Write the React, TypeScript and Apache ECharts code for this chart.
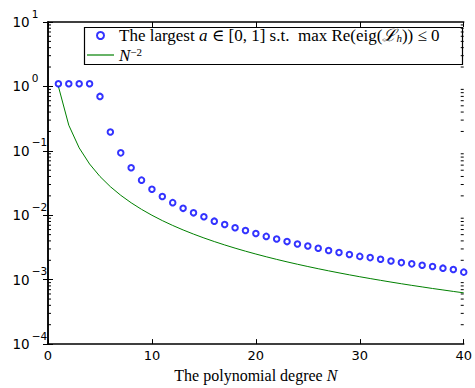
import { useEffect, useRef } from "react";
import * as echarts from "echarts";

// Polynomial degrees N = 1..40
const degrees = [
  1, 2, 3, 4, 5, 6, 7, 8, 9, 10, 11, 12, 13, 14, 15, 16, 17, 18, 19, 20,
  21, 22, 23, 24, 25, 26, 27, 28, 29, 30, 31, 32, 33, 34, 35, 36, 37, 38, 39, 40,
];

// Largest stable a for each degree
const largestA = [
  1.1, 1.1, 1.1, 1.1, 0.7, 0.196, 0.093, 0.0548, 0.0351, 0.0253,
  0.0195, 0.0157, 0.0128, 0.0109, 0.0095, 0.0081, 0.0072, 0.0064, 0.0058, 0.0052,
  0.0047, 0.00428, 0.0039, 0.00359, 0.00334, 0.00308, 0.00284, 0.00264, 0.00246, 0.0023,
  0.0022, 0.00207, 0.00195, 0.00184, 0.00176, 0.00168, 0.0016, 0.00151, 0.00144, 0.00131,
];

// Reference curve N^-2
const inverseSquare = [
  1, 0.25, 0.1111, 0.0625, 0.04, 0.02778, 0.02041, 0.015625, 0.012346, 0.01,
  0.008264, 0.006944, 0.005917, 0.005102, 0.004444, 0.003906, 0.00346, 0.003086, 0.00277, 0.0025,
  0.002268, 0.002066, 0.00189, 0.001736, 0.0016, 0.001479, 0.001372, 0.001276, 0.001189, 0.001111,
  0.001041, 0.000977, 0.000918, 0.000865, 0.000816, 0.000772, 0.00073, 0.000693, 0.000657, 0.000625,
];

const xTicks = [0, 10, 20, 30, 40];
const yDecades = [-4, -3, -2, -1, 0, 1];

const seriesA = "The largest a ∈ [0, 1] s.t. max Re(eig(ℒh)) ≤ 0";
const seriesN = "N^−2";

const SERIF = "'Liberation Serif', 'DejaVu Serif', serif";
const SANS = "'DejaVu Sans', sans-serif";

const xMin = xTicks[0];
const xMax = xTicks[xTicks.length - 1];
const yMin = Math.pow(10, yDecades[0]);
const yMax = Math.pow(10, yDecades[yDecades.length - 1]);

// log-axis minor ticks at 2..9 within each decade
const minorTicks: number[] = [];
for (let d = yDecades[0]; d < yDecades[yDecades.length - 1]; d++) {
  for (let k = 2; k <= 9; k++) minorTicks.push(k * Math.pow(10, d));
}

// power-of-ten labels: base "10" and the exponent are drawn by two overlaid axes
const exponentOf = (v: number) => {
  const e = Math.round(Math.log10(v));
  return e < 0 ? "−" + -e : String(e);
};

const legendText = (name: string) =>
  name === seriesA
    ? "{r|The largest }{i|a}{r| ∈ [0, 1] s.t.  max Re(eig(}{i|ℒ}{sub|h}{r|)) ≤ 0}"
    : "{i|N}{sup|−2}";

export default function App() {
  const ref = useRef<HTMLDivElement>(null);

  useEffect(() => {
    const chart = echarts.init(ref.current!, null, { renderer: "svg" });
    const axisLine = { show: true, lineStyle: { color: "#000", width: 1.5 } };
    const tick = { show: true, inside: true, length: 5, lineStyle: { color: "#000", width: 1 } };
    const logRange = { type: "log", logBase: 10, min: yMin, max: yMax, splitLine: { show: false } };
    const labelOnly = { position: "left", axisLine: { show: false }, axisTick: { show: false } };

    chart.setOption({
      animation: false,
      backgroundColor: "#fff",
      grid: { left: 48, right: 11, top: 22, bottom: 38, containLabel: false },
      xAxis: [
        {
          type: "value",
          min: xMin,
          max: xMax,
          interval: 10,
          position: "bottom",
          axisLine,
          axisTick: tick,
          splitLine: { show: false },
          axisLabel: { fontFamily: SANS, fontSize: 13, color: "#000", margin: 5 },
          name: "The polynomial degree {i|N}",
          nameLocation: "middle",
          nameGap: 22,
          nameTextStyle: {
            fontFamily: SERIF,
            fontSize: 16,
            color: "#000",
            rich: { i: { fontFamily: SERIF, fontStyle: "italic", fontSize: 16, color: "#000" } },
          },
        },
        {
          type: "value",
          min: xMin,
          max: xMax,
          interval: 10,
          position: "top",
          axisLine,
          axisTick: tick,
          splitLine: { show: false },
          axisLabel: { show: false },
        },
      ],
      yAxis: [
        {
          ...logRange,
          position: "left",
          axisLine,
          axisTick: tick,
          axisLabel: { show: false },
        },
        {
          ...logRange,
          position: "right",
          axisLine,
          axisTick: tick,
          axisLabel: { show: false },
        },
        {
          ...logRange,
          ...labelOnly,
          axisLabel: {
            formatter: () => "10",
            fontFamily: SANS,
            fontSize: 13.5,
            color: "#000",
            align: "left",
            margin: 35.5,
          },
        },
        {
          ...logRange,
          ...labelOnly,
          axisLabel: {
            formatter: exponentOf,
            fontFamily: SANS,
            fontSize: 10.5,
            color: "#000",
            align: "left",
            verticalAlign: "bottom",
            padding: [0, 0, 3, 0],
            margin: 16.3,
          },
        },
      ],
      legend: {
        orient: "vertical",
        left: 82,
        top: 25,
        padding: [2, 4, 2, 5],
        itemWidth: 27,
        itemHeight: 7,
        itemGap: 2,
        selectedMode: false,
        data: [
          { name: seriesA, itemStyle: { borderWidth: 1 } },
          { name: seriesN, icon: "path://M0,0 H90 V4 H0 Z" },
        ],
        formatter: legendText,
        textStyle: {
          fontFamily: SERIF,
          fontSize: 17,
          color: "#000",
          rich: {
            r: { fontFamily: SERIF, fontSize: 17, color: "#000", lineHeight: 16 },
            i: { fontFamily: SERIF, fontStyle: "italic", fontSize: 17, color: "#000", lineHeight: 16 },
            sub: { fontFamily: SERIF, fontStyle: "italic", fontSize: 11, color: "#000", padding: [5, 0, 0, 0] },
            sup: { fontFamily: SERIF, fontSize: 11, color: "#000", padding: [0, 0, 7, 0] },
          },
        },
      },
      graphic: [
        {
          type: "rect",
          left: 82,
          top: 25,
          z: 100,
          shape: { width: 378, height: 37 },
          style: { fill: "none", stroke: "#000", lineWidth: 1.2 },
          silent: true,
        },
      ],
      series: [
        {
          name: seriesA,
          type: "scatter",
          data: degrees.map((n, i) => [n, largestA[i]]),
          symbol: "emptyCircle",
          symbolSize: 5.5,
          itemStyle: { color: "#0000ff", borderColor: "#0000ff", borderWidth: 1 },
          z: 3,
        },
        {
          name: seriesN,
          type: "line",
          data: degrees.map((n, i) => [n, inverseSquare[i]]),
          showSymbol: false,
          symbol: "none",
          color: "#008000",
          lineStyle: { color: "#008000", width: 1 },
          z: 2,
        },
        {
          name: "minorTicks",
          type: "custom",
          silent: true,
          clip: false,
          data: minorTicks.map((v) => [xMin, v]),
          encode: { x: 0, y: 1 },
          renderItem: (_params: any, api: any) => {
            const v = api.value(1);
            const l = api.coord([xMin, v]);
            const r = api.coord([xMax, v]);
            const st = { stroke: "#000", lineWidth: 1 };
            return {
              type: "group",
              children: [
                { type: "line", shape: { x1: l[0], y1: l[1], x2: l[0] + 3, y2: l[1] }, style: st },
                { type: "line", shape: { x1: r[0] - 3, y1: r[1], x2: r[0], y2: r[1] }, style: st },
              ],
            };
          },
          z: 1,
        },
      ],
    });

    return () => chart.dispose();
  }, []);

  return (
    <div
      ref={ref}
      style={{ position: "absolute", left: 0, top: 0, width: 475, height: 388 }}
    />
  );
}
